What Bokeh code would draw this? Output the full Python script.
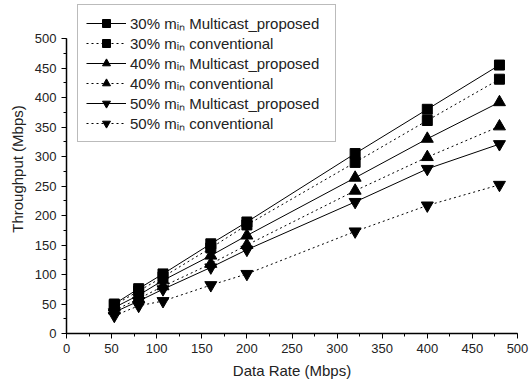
from bokeh.plotting import figure
from bokeh.models import Range1d, SingleIntervalTicker, Legend, LegendItem
from bokeh.embed import file_html
from bokeh.resources import INLINE

data_rate = [53, 80, 107, 160, 200, 320, 400, 480]
p30_proposed = [50, 76, 101, 152, 189, 305, 380, 455]
p30_conventional = [48, 72, 96, 145, 184, 290, 361, 431]
p40_proposed = [44, 65, 90, 132, 166, 264, 330, 392]
p40_conventional = [39, 59, 80, 118, 150, 242, 299, 351]
p50_proposed = [36, 55, 75, 112, 142, 223, 279, 321]
p50_conventional = [30, 47, 55, 82, 101, 173, 217, 252]

series = [
    ("30% mᵢₙ Multicast_proposed", p30_proposed, "solid", "square", 10),
    ("30% mᵢₙ conventional", p30_conventional, "2 3", "square", 10),
    ("40% mᵢₙ Multicast_proposed", p40_proposed, "solid", "triangle", 12),
    ("40% mᵢₙ conventional", p40_conventional, "2 3", "triangle", 12),
    ("50% mᵢₙ Multicast_proposed", p50_proposed, "solid", "inverted_triangle", 12),
    ("50% mᵢₙ conventional", p50_conventional, "2 3", "inverted_triangle", 12),
]

p = figure(width=529, height=381, output_backend="svg", toolbar_location=None,
           x_range=Range1d(0, 500), y_range=Range1d(0, 500 * 329 / 295),
           min_border_left=66, min_border_right=12, min_border_top=4, min_border_bottom=48)
p.outline_line_color = None
p.xgrid.visible = False
p.ygrid.visible = False

items = []
for label, vals, dash, marker, size in series:
    r1 = p.line(data_rate, vals, line_color="black", line_width=1, line_dash=dash)
    r2 = p.scatter(data_rate, vals, marker=marker, size=size, fill_color="black", line_color="black")
    items.append(LegendItem(label=label, renderers=[r1, r2]))

for ax in (p.xaxis[0], p.yaxis[0]):
    ax.ticker = SingleIntervalTicker(interval=50, num_minor_ticks=2)
    ax.axis_line_color = "black"
    ax.axis_line_width = 1.5
    ax.major_tick_line_color = "black"
    ax.minor_tick_line_color = "black"
    ax.major_tick_out = 5
    ax.major_tick_in = 0
    ax.minor_tick_out = 3
    ax.minor_tick_in = 0
    ax.major_label_text_font = "Liberation Sans"
    ax.major_label_text_font_size = "13px"
    ax.major_label_text_color = "#222222"
    ax.axis_label_text_font = "Liberation Sans"
    ax.axis_label_text_font_size = "15px"
    ax.axis_label_text_font_style = "normal"
    ax.axis_label_text_color = "#222222"
    ax.axis_label_standoff = 6

p.yaxis.bounds = (0, 500)
p.xaxis.axis_label = "Data Rate (Mbps)"
p.yaxis.axis_label = "Throughput (Mbps)"
p.yaxis.major_label_orientation = "horizontal"

legend = Legend(items=items, location=(11, 191))
legend.label_text_font = "Liberation Sans"
legend.label_text_font_size = "15px"
legend.label_text_color = "#222222"
legend.glyph_width = 40
legend.glyph_height = 20
legend.label_height = 20
legend.label_width = 197
legend.spacing = 0
legend.padding = 8
legend.margin = 0
legend.label_standoff = 4
legend.border_line_color = "#777777"
legend.border_line_width = 1
legend.background_fill_alpha = 1
p.add_layout(legend, "center")

open("out.html", "w").write(file_html(p, INLINE))
